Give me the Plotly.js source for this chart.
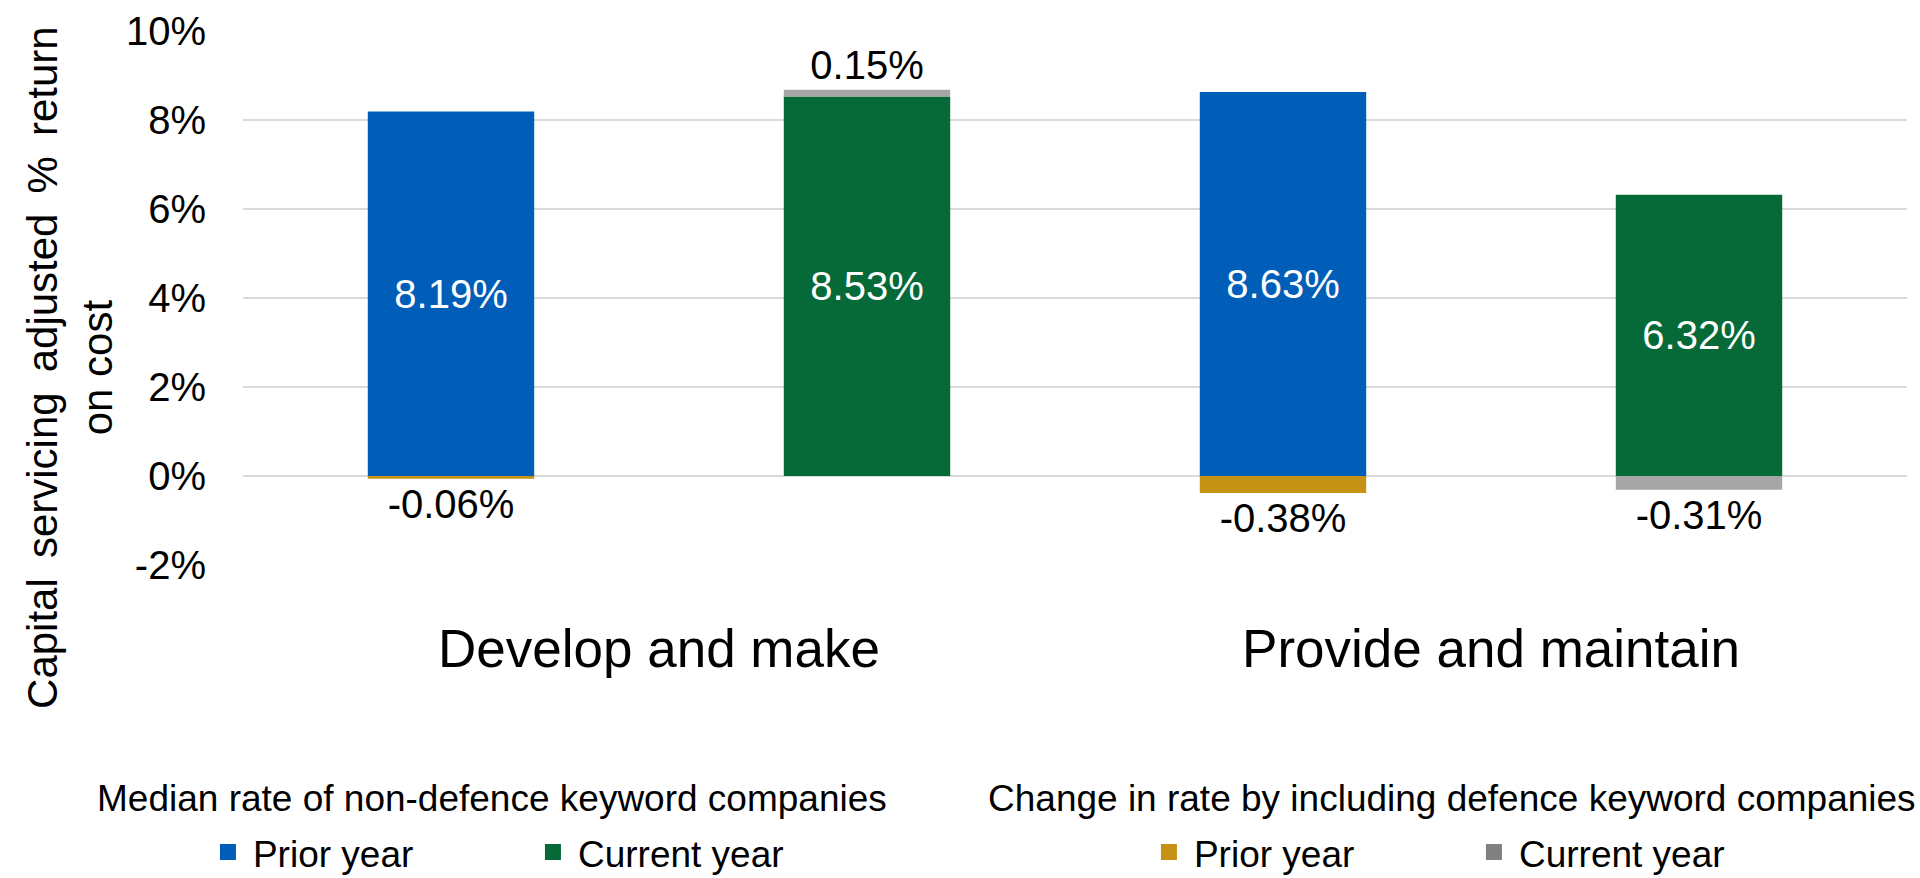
<!DOCTYPE html>
<html>
<head>
<meta charset="utf-8">
<script src="https://cdn.plot.ly/plotly-3.0.1.min.js"></script>
<style>html,body{margin:0;padding:0;background:#fff;}#chart{width:1920px;height:878px;}</style>
</head>
<body>
<div id="chart"></div>
<script>
// ---- data ----
const categories = ["Develop and make", "Provide and maintain"];
const priorYear = [8.19, 8.63];          // Median rate of non-defence keyword companies, prior year
const currentYear = [8.53, 6.32];        // Median rate of non-defence keyword companies, current year
const priorChange = [-0.06, -0.38];      // Change by including defence keyword companies, prior year
const currentChange = [0.15, -0.31];     // Change by including defence keyword companies, current year
const seriesNames = ["Prior year", "Current year"];
const yTickVals = [-2, 0, 2, 4, 6, 8, 10];
const yTickText = ["-2%", "0%", "2%", "4%", "6%", "8%", "10%"];
const legendTitle1 = "Median rate of non-defence keyword companies";
const legendTitle2 = "Change in rate by including defence keyword companies";
const yTitle = "Capital\u2009 servicing\u2009 adjusted\u2009 %\u2009 return<br>on cost";

const FONT = "'Liberation Sans', Arial, sans-serif";
const COLORS = {prior: "#005EB8", current: "#066A38", priorChg: "#C69214", currentChg: "#A6A6A6"};
const fmt = v => v.toFixed(2) + "%";

const insideCommon = {
  type: "bar", x: categories, textposition: "inside", insidetextanchor: "middle",
  constraintext: "none", cliponaxis: false, hoverinfo: "skip", showlegend: false,
  textfont: {family: FONT, size: 40, color: "#ffffff"}
};
const outsideCommon = {
  type: "bar", x: categories, textposition: "outside",
  constraintext: "none", cliponaxis: false, hoverinfo: "skip", showlegend: false,
  textfont: {family: FONT, size: 40, color: "#000000"}
};

const bars = [
  Object.assign({}, insideCommon, {
    name: seriesNames[0], y: priorYear, text: priorYear.map(fmt),
    offsetgroup: "prior", marker: {color: COLORS.prior}
  }),
  Object.assign({}, insideCommon, {
    name: seriesNames[1], y: currentYear, text: currentYear.map(fmt),
    offsetgroup: "current", marker: {color: COLORS.current}
  }),
  Object.assign({}, outsideCommon, {
    name: seriesNames[0], y: priorChange, text: priorChange.map(fmt),
    base: priorChange.map((v, i) => v > 0 ? priorYear[i] : 0),
    offsetgroup: "prior", marker: {color: COLORS.priorChg}
  }),
  Object.assign({}, outsideCommon, {
    name: seriesNames[1], y: currentChange, text: currentChange.map(fmt),
    base: currentChange.map((v, i) => v > 0 ? currentYear[i] : 0),
    offsetgroup: "current", marker: {color: COLORS.currentChg}
  })
];

// legend-only entries (square swatches, no marks on the plot)
const legendEntry = (name, color, legend) => ({
  type: "scatter", mode: "markers", x: [null], y: [null], name: name,
  marker: {symbol: "square", size: 20, color: color}, legend: legend, hoverinfo: "skip"
});
const legendTraces = [
  legendEntry(seriesNames[0], COLORS.prior, "legend"),
  legendEntry(seriesNames[1], COLORS.current, "legend"),
  legendEntry(seriesNames[0], COLORS.priorChg, "legend2"),
  legendEntry(seriesNames[1], "#808080", "legend2")
];

const legendCommon = {
  orientation: "h", xref: "container", yref: "container",
  xanchor: "left", yanchor: "middle", y: 0.029,
  font: {family: FONT, size: 37, color: "#000"},
  bgcolor: "rgba(0,0,0,0)", borderwidth: 0, itemwidth: 40,
  traceorder: "normal", entrywidth: 270, entrywidthmode: "pixels"
};

const layout = {
  width: 1920, height: 878,
  paper_bgcolor: "#ffffff", plot_bgcolor: "#ffffff",
  font: {family: FONT, color: "#000"},
  margin: {l: 243, r: 13, t: 31, b: 313, pad: 0},
  barmode: "group", bargap: 0, bargroupgap: 0.6,
  showlegend: true,
  legend: Object.assign({}, legendCommon, {x: 0.1057}),
  legend2: Object.assign({}, legendCommon, {x: 0.5958}),
  xaxis: {
    type: "category", range: [-0.5, 1.5], showgrid: false, zeroline: false,
    showline: false, ticks: "", ticklabelstandoff: 48,
    tickfont: {family: FONT, size: 53, color: "#000"}, fixedrange: true
  },
  yaxis: {
    range: [-2, 10], tickvals: yTickVals, ticktext: yTickText,
    showgrid: true, gridcolor: "#D9D9D9", gridwidth: 1.5,
    zeroline: false, showline: false, ticks: "", ticklabelstandoff: 36,
    tickfont: {family: FONT, size: 40, color: "#000"}, fixedrange: true
  },
  annotations: [
    {text: yTitle, xref: "paper", yref: "paper", x: -0.104, y: 0.3708,
     xanchor: "center", yanchor: "middle", textangle: -90, showarrow: false,
     font: {family: FONT, size: 42, color: "#000"}},
    {text: legendTitle1, xref: "paper", yref: "paper", x: 0.1496, y: -0.438,
     xanchor: "center", yanchor: "middle", showarrow: false,
     font: {family: FONT, size: 37, color: "#000"}},
    {text: legendTitle2, xref: "paper", yref: "paper", x: 0.7266, y: -0.438,
     xanchor: "center", yanchor: "middle", showarrow: false,
     font: {family: FONT, size: 37, color: "#000"}}
  ]
};

Plotly.newPlot("chart", bars.concat(legendTraces), layout, {displayModeBar: false, staticPlot: true});
</script>
</body>
</html>
